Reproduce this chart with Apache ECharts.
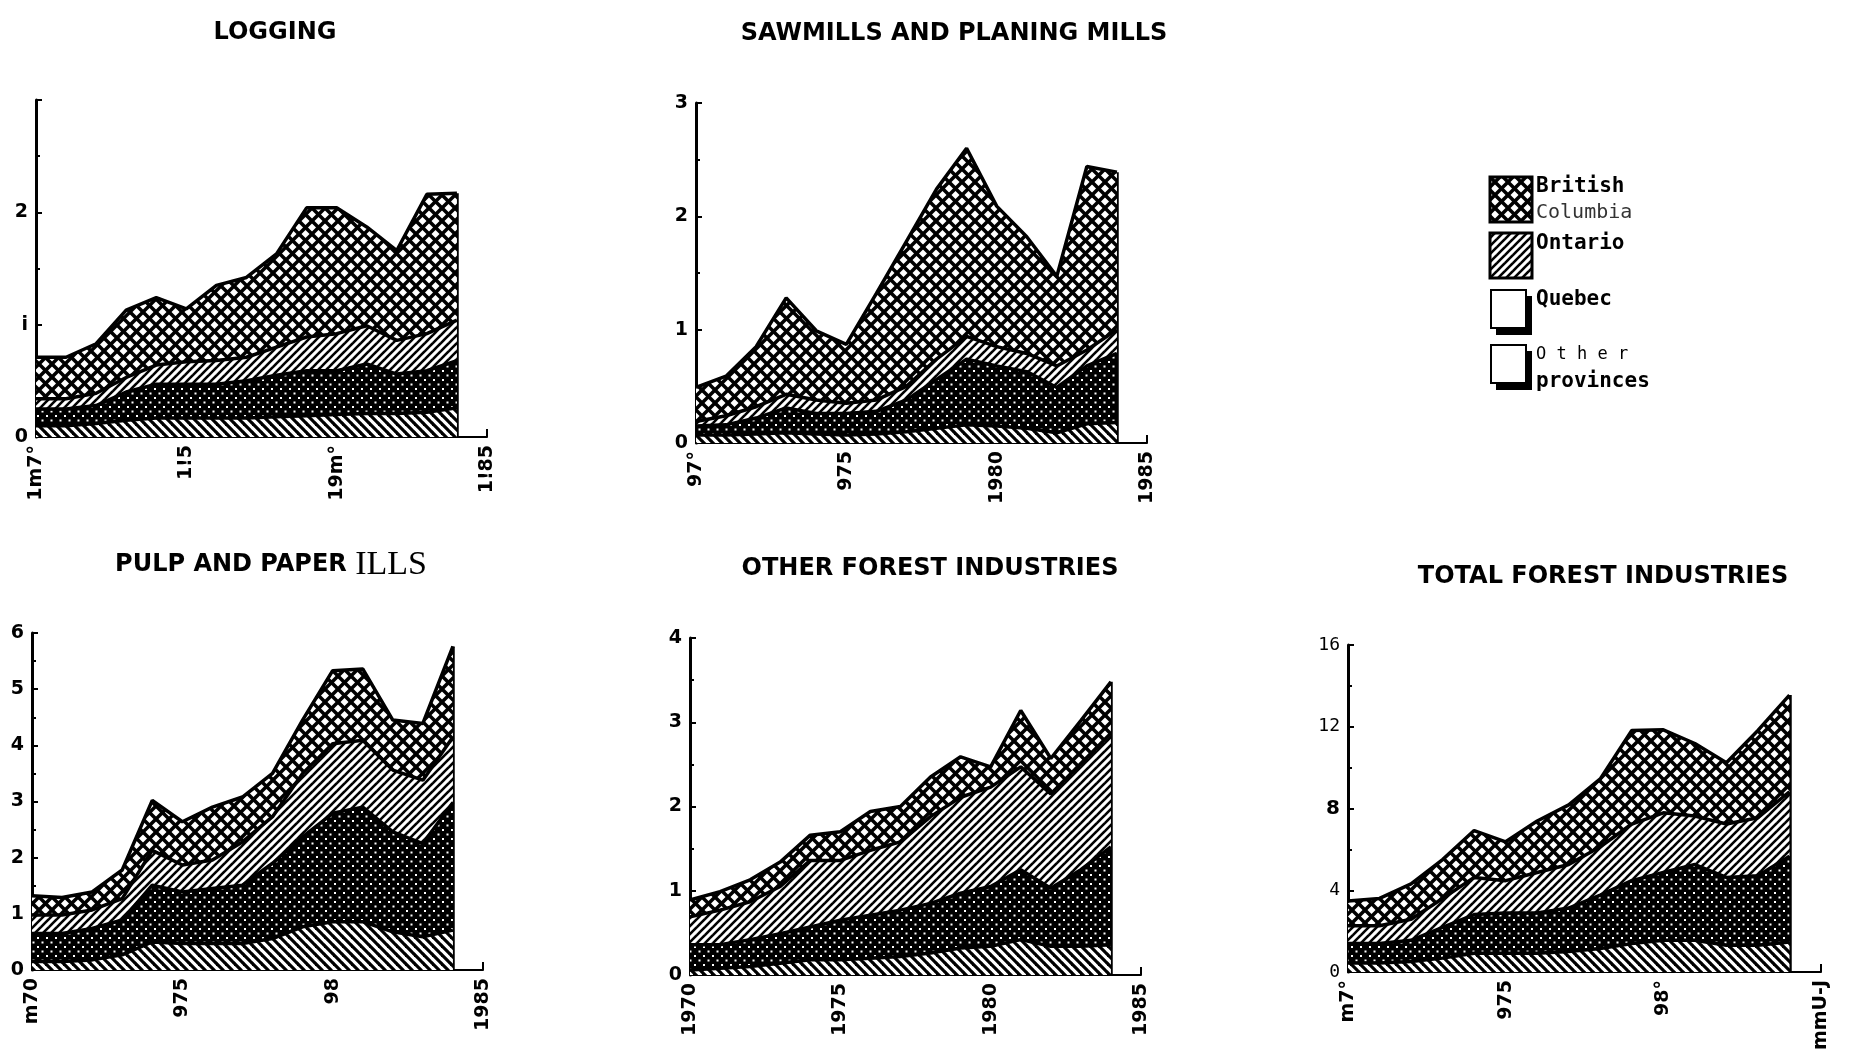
<!DOCTYPE html>
<html>
<head>
<meta charset="utf-8">
<script src="https://cdn.jsdelivr.net/npm/echarts@6/dist/echarts.min.js"></script>
<style>
html, body { margin: 0; padding: 0; background: #fff; }
#chart { width: 1857px; height: 1053px; }
</style>
</head>
<body>
<div id="chart"></div>
<script>
// x axis runs 1970 - 1985, data 1970 - 1984
const axisYears = ["1970", "1971", "1972", "1973", "1974", "1975", "1976", "1977", "1978", "1979", "1980", "1981", "1982", "1983", "1984", "1985"];
// stack order: bottom to top
const provinces = ["Other provinces", "Quebec", "Ontario", "British Columbia"];

// logging
const loggingOther = [0.10, 0.10, 0.12, 0.15, 0.17, 0.17, 0.17, 0.17, 0.18, 0.19, 0.20, 0.21, 0.21, 0.22, 0.26];
const loggingQuebec = [0.15, 0.15, 0.16, 0.25, 0.30, 0.30, 0.30, 0.33, 0.37, 0.40, 0.39, 0.44, 0.35, 0.37, 0.42];
const loggingOntario = [0.09, 0.09, 0.11, 0.13, 0.17, 0.20, 0.21, 0.21, 0.25, 0.30, 0.33, 0.34, 0.30, 0.33, 0.36];
const loggingBC = [0.37, 0.37, 0.44, 0.60, 0.60, 0.47, 0.67, 0.71, 0.83, 1.15, 1.12, 0.88, 0.80, 1.24, 1.13];

// sawmills and planing mills
const sawmillsOther = [0.07, 0.07, 0.08, 0.09, 0.08, 0.07, 0.08, 0.10, 0.13, 0.16, 0.15, 0.13, 0.09, 0.17, 0.18];
const sawmillsQuebec = [0.08, 0.09, 0.14, 0.22, 0.18, 0.19, 0.20, 0.28, 0.43, 0.58, 0.53, 0.50, 0.40, 0.51, 0.61];
const sawmillsOntario = [0.04, 0.08, 0.10, 0.12, 0.12, 0.09, 0.10, 0.12, 0.18, 0.20, 0.17, 0.16, 0.19, 0.14, 0.21];
const sawmillsBC = [0.30, 0.35, 0.53, 0.85, 0.61, 0.52, 0.94, 1.28, 1.50, 1.66, 1.24, 1.03, 0.79, 1.62, 1.39];

// pulp and paper mills
const pulpOther = [0.15, 0.15, 0.18, 0.27, 0.50, 0.47, 0.47, 0.47, 0.56, 0.77, 0.86, 0.86, 0.68, 0.59, 0.71];
const pulpQuebec = [0.50, 0.50, 0.56, 0.62, 1.01, 0.92, 0.98, 1.04, 1.34, 1.60, 1.93, 2.04, 1.78, 1.66, 2.27];
const pulpOntario = [0.33, 0.33, 0.33, 0.38, 0.62, 0.48, 0.51, 0.77, 0.83, 1.13, 1.24, 1.19, 1.10, 1.13, 1.17];
const pulpBC = [0.34, 0.31, 0.32, 0.51, 0.89, 0.77, 0.94, 0.80, 0.77, 0.95, 1.30, 1.27, 0.89, 1.01, 1.61];

// other forest industries
const otherOther = [0.06, 0.08, 0.10, 0.14, 0.18, 0.18, 0.20, 0.22, 0.26, 0.32, 0.34, 0.42, 0.34, 0.34, 0.36];
const otherQuebec = [0.30, 0.28, 0.32, 0.35, 0.39, 0.47, 0.51, 0.55, 0.59, 0.65, 0.71, 0.83, 0.69, 0.91, 1.16];
const otherOntario = [0.33, 0.41, 0.45, 0.56, 0.79, 0.71, 0.77, 0.81, 1.03, 1.14, 1.18, 1.22, 1.12, 1.26, 1.35];
const otherBC = [0.20, 0.22, 0.26, 0.29, 0.30, 0.34, 0.46, 0.42, 0.47, 0.48, 0.24, 0.67, 0.42, 0.51, 0.61];

// total forest industries
const totalOther = [0.44, 0.44, 0.52, 0.68, 0.92, 0.92, 0.92, 1.00, 1.15, 1.39, 1.55, 1.55, 1.31, 1.31, 1.47];
const totalQuebec = [0.95, 0.95, 1.03, 1.50, 1.89, 1.97, 1.97, 2.13, 2.61, 3.08, 3.32, 3.71, 3.32, 3.40, 4.19];
const totalOntario = [0.87, 0.87, 1.03, 1.42, 1.82, 1.58, 1.98, 2.13, 2.37, 2.77, 2.92, 2.37, 2.61, 2.84, 3.16];
const totalBC = [1.22, 1.34, 1.73, 1.90, 2.29, 1.90, 2.52, 2.92, 3.32, 4.58, 4.06, 3.55, 3.00, 4.27, 4.73];

// tick labels (as printed)
const loggingXLabels = ["1m7°", "1!5", "19m°", "1!85"];
const sawmillsXLabels = ["97°", "975", "1980", "1985"];
const pulpXLabels = ["m70", "975", "98", "1985"];
const otherXLabels = ["1970", "1975", "1980", "1985"];
const totalXLabels = ["m7°", "975", "98°", "mmU-J"];
const loggingYLabels = ["0", "i", "2", ""];
const sawmillsYLabels = ["0", "1", "2", "3"];
const pulpYLabels = ["0", "1", "2", "3", "4", "5", "6"];
const otherYLabels = ["0", "1", "2", "3", "4"];
const totalYLabels = ["0", "4", "{b|8}", "12", "16"];

// fill patterns
const hatch = (size, width, dirs) => {
  const c = document.createElement("canvas");
  c.width = c.height = size;
  const g = c.getContext("2d");
  g.fillStyle = "#fff";
  g.fillRect(0, 0, size, size);
  g.strokeStyle = "#000";
  g.lineWidth = width;
  dirs.forEach((d) => {
    [-size, 0, size].forEach((off) => {
      g.beginPath();
      if (d === "/") {
        g.moveTo(off - 1, size + 1);
        g.lineTo(off + size + 1, -1);
      } else {
        g.moveTo(off - 1, -1);
        g.lineTo(off + size + 1, size + 1);
      }
      g.stroke();
    });
  });
  return { image: c, repeat: "repeat" };
};
const dots = (size) => {
  const c = document.createElement("canvas");
  c.width = c.height = size;
  const g = c.getContext("2d");
  g.fillStyle = "#000";
  g.fillRect(0, 0, size, size);
  g.fillStyle = "#fff";
  g.fillRect(1, 1, 2, 2);
  g.fillRect(size / 2 + 1, size / 2 + 1, 2, 2);
  return { image: c, repeat: "repeat" };
};
const patterns = [hatch(9, 3.2, ["\\"]), dots(9), hatch(8, 2.6, ["/"]), hatch(13, 3.5, ["/", "\\"])];

const charts = [
  { sets: [loggingOther, loggingQuebec, loggingOntario, loggingBC], x: loggingXLabels, y: loggingYLabels, max: 3, step: 1, grid: { left: 36, top: 100, width: 451, height: 337 } },
  { sets: [sawmillsOther, sawmillsQuebec, sawmillsOntario, sawmillsBC], x: sawmillsXLabels, y: sawmillsYLabels, max: 3, step: 1, grid: { left: 696, top: 103, width: 451, height: 340 } },
  { sets: [pulpOther, pulpQuebec, pulpOntario, pulpBC], x: pulpXLabels, y: pulpYLabels, max: 6, step: 1, grid: { left: 32, top: 633, width: 451, height: 337 } },
  { sets: [otherOther, otherQuebec, otherOntario, otherBC], x: otherXLabels, y: otherYLabels, max: 4, step: 1, grid: { left: 690, top: 638, width: 451, height: 337 } },
  { sets: [totalOther, totalQuebec, totalOntario, totalBC], x: totalXLabels, y: totalYLabels, max: 16, step: 4, grid: { left: 1348, top: 645, width: 473, height: 338 } },
];

const labelFont = { color: "#000", fontFamily: "DejaVu Sans", fontWeight: "bold", fontSize: 19 };
const thinFont = { color: "#000", fontFamily: "DejaVu Sans Mono", fontWeight: "normal", fontSize: 18 };

const grid = charts.map((c) => c.grid);
const xAxis = charts.map((c, i) => ({
  type: "category",
  gridIndex: i,
  data: axisYears,
  boundaryGap: false,
  axisLine: { lineStyle: { color: "#000", width: 2 } },
  axisTick: { inside: true, length: 8, interval: 4, lineStyle: { color: "#000", width: 2 } },
  splitLine: { show: false },
  axisLabel: {
    ...labelFont,
    rotate: 90,
    margin: 8,
    interval: 4,
    formatter: (v, idx) => c.x[Math.round(idx / 5)],
  },
}));
const yAxis = charts.map((c, i) => ({
  type: "value",
  gridIndex: i,
  min: 0,
  max: c.max,
  interval: c.step,
  axisLine: { show: true, lineStyle: { color: "#000", width: 3 } },
  axisTick: { show: true, inside: true, length: 6, lineStyle: { color: "#000", width: 2 } },
  minorTick: { show: true, splitNumber: 2, length: 4, lineStyle: { color: "#000", width: 2 } },
  splitLine: { show: false },
  axisLabel: {
    ...(i === 4 ? thinFont : labelFont),
    margin: 8,
    rich: { b: { ...labelFont, fontSize: 20 } },
    formatter: (v) => c.y[Math.round(v / c.step)],
  },
}));

const series = [];
charts.forEach((c, i) => {
  c.sets.forEach((vals, k) => {
    const s = {
      name: provinces[k],
      type: "line",
      stack: "s" + i,
      xAxisIndex: i,
      yAxisIndex: i,
      data: vals,
      symbol: "none",
      z: 10 - k,
      silent: true,
      lineStyle: { color: "#000", width: 3.5 },
      areaStyle: { color: patterns[k], opacity: 1 },
    };
    if (k === 3) {
      const last = vals.length - 1;
      const top = c.sets.reduce((a, arr) => a + arr[last], 0);
      s.markLine = {
        silent: true,
        symbol: "none",
        label: { show: false },
        lineStyle: { color: "#000", width: 3.5, type: "solid" },
        data: [[{ coord: [axisYears[last], 0] }, { coord: [axisYears[last], top] }]],
      };
    }
    series.push(s);
  });
});

const titleFont = 'bold 24px "DejaVu Sans"';
const titles = [
  { text: "LOGGING", x: 275, y: 33 },
  { text: "SAWMILLS AND PLANING MILLS", x: 954, y: 34 },
  { text: "{a|PULP AND PAPER} {b|ILLS}", x: 271, y: 565 },
  { text: "OTHER FOREST INDUSTRIES", x: 930, y: 569 },
  { text: "TOTAL FOREST INDUSTRIES", x: 1603, y: 577 },
];

const graphic = titles.map((t) => ({
  type: "text",
  x: t.x,
  y: t.y,
  style: {
    text: t.text,
    font: titleFont,
    fill: "#000",
    textAlign: "center",
    textVerticalAlign: "middle",
    rich: {
      a: { font: titleFont, fill: "#000" },
      b: { font: '34px "Liberation Serif"', fill: "#000" },
    },
  },
}));

// legend
const legendBoxes = [
  { y: 177, fill: patterns[3] },
  { y: 233, fill: patterns[2] },
  { y: 290, fill: null },
  { y: 345, fill: null },
];
legendBoxes.forEach((b) => {
  if (b.fill) {
    graphic.push({ type: "rect", shape: { x: 1490, y: b.y, width: 42, height: 45 }, style: { fill: b.fill, stroke: "#000", lineWidth: 3 } });
  } else {
    graphic.push({ type: "rect", shape: { x: 1496, y: b.y + 6, width: 36, height: 39 }, style: { fill: "#000" } });
    graphic.push({ type: "rect", shape: { x: 1491, y: b.y, width: 35, height: 38 }, style: { fill: "#fff", stroke: "#000", lineWidth: 2 } });
  }
});
const legendText = [
  { text: "British", y: 187, font: 'bold 21px "DejaVu Sans Mono"', fill: "#000" },
  { text: "Columbia", y: 213, font: '20px "DejaVu Sans Mono"', fill: "#333" },
  { text: "Ontario", y: 244, font: 'bold 21px "DejaVu Sans Mono"', fill: "#000" },
  { text: "Quebec", y: 300, font: 'bold 21px "DejaVu Sans Mono"', fill: "#000" },
  { text: "O t h e r", y: 355, font: '17px "DejaVu Sans Mono"', fill: "#000" },
  { text: "provinces", y: 382, font: 'bold 21px "DejaVu Sans Mono"', fill: "#000" },
];
legendText.forEach((t) => {
  graphic.push({
    type: "text",
    x: 1536,
    y: t.y,
    style: { text: t.text, font: t.font, fill: t.fill, textAlign: "left", textVerticalAlign: "middle" },
  });
});

const chart = echarts.init(document.getElementById("chart"));
chart.setOption({
  animation: false,
  backgroundColor: "#fff",
  grid,
  xAxis,
  yAxis,
  series,
  graphic,
});
</script>
</body>
</html>
